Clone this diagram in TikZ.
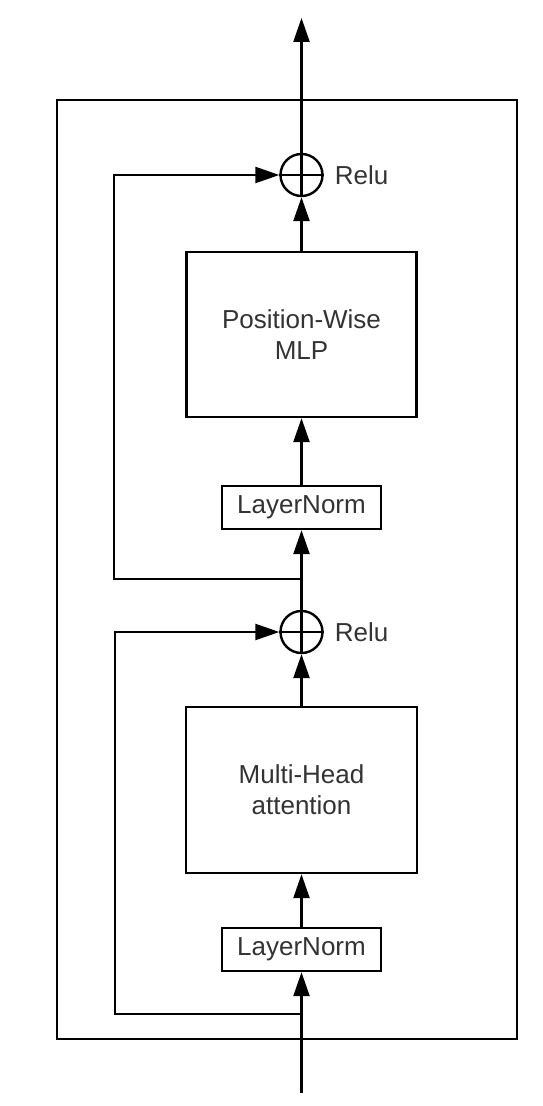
\documentclass[tikz,border=0pt]{standalone}
\usepackage{fontspec}
\setmainfont{Liberation Sans}
\usetikzlibrary{positioning}
\usetikzlibrary{arrows.meta}

\begin{document}
\begin{tikzpicture}[x=0.5pt, y=-0.5pt]
    \tikzstyle{block}=[rectangle, draw, line width=1.2pt, align=center,
    text=black!80, font=\fontsize{13}{15.5}\selectfont]
    \tikzstyle{sumnode}=[circle, draw, line width=1.2pt, minimum size=21pt, inner sep=0pt]
    \tikzstyle{flow}=[line width=1.2pt, arrows={-Triangle[length=12pt, width=8pt]}]

    % Page size
    \useasboundingbox (0, 0) rectangle (542, 1106);

    % Outer frame
    \draw [line width=1.2pt] (57, 100) rectangle (517, 1039);

    % Input and output
    \coordinate (in) at (301.5, 1093);
    \coordinate (out) at (301.5, 18);

    % Lower sublayer
    \node [block, minimum width=79.5pt, minimum height=21.5pt] (ln1) at (301.5, 949.5) {LayerNorm};
    \node [block, minimum width=115.5pt, minimum height=83pt] (mha) at (301.5, 790) {Multi-Head\\attention};
    \node [sumnode] (sum1) at (301.5, 632) {};
    \node [right=2pt of sum1, text=black!80, font=\fontsize{13}{15.5}\selectfont] (relu1) {Relu};

    % Upper sublayer
    \node [block, minimum width=79.5pt, minimum height=21.5pt] (ln2) at (301.5, 507.5) {LayerNorm};
    \node [block, minimum width=115pt, minimum height=82.5pt] (mlp) at (301.5, 334.5) {Position-Wise\\MLP};
    \node [sumnode] (sum2) at (301.5, 175) {};
    \node [right=2pt of sum2, text=black!80, font=\fontsize{13}{15.5}\selectfont] (relu2) {Relu};

    % Plus signs
    \draw [line width=1.2pt] (sum1.north) -- (sum1.south) (sum1.west) -- (sum1.east);
    \draw [line width=1.2pt] (sum2.north) -- (sum2.south) (sum2.west) -- (sum2.east);

    % Main path
    \draw [flow] (in) -- (ln1.south);
    \draw [flow] (ln1.north) -- (mha.south);
    \draw [flow] (mha.north) -- (sum1.south);
    \draw [flow] (sum1.north) -- (ln2.south);
    \draw [flow] (ln2.north) -- (mlp.south);
    \draw [flow] (mlp.north) -- (sum2.south);
    \draw [flow] (sum2.north) -- (out);

    % Residual connections
    \coordinate (split1) at (301.5, 1014);
    \coordinate (skip1) at (115, 1014);
    \draw [flow] (split1) -- (skip1) |- (sum1.west);
    \coordinate (split2) at (301.5, 579);
    \coordinate (skip2) at (114, 579);
    \draw [flow] (split2) -- (skip2) |- (sum2.west);

\end{tikzpicture}
\end{document}
